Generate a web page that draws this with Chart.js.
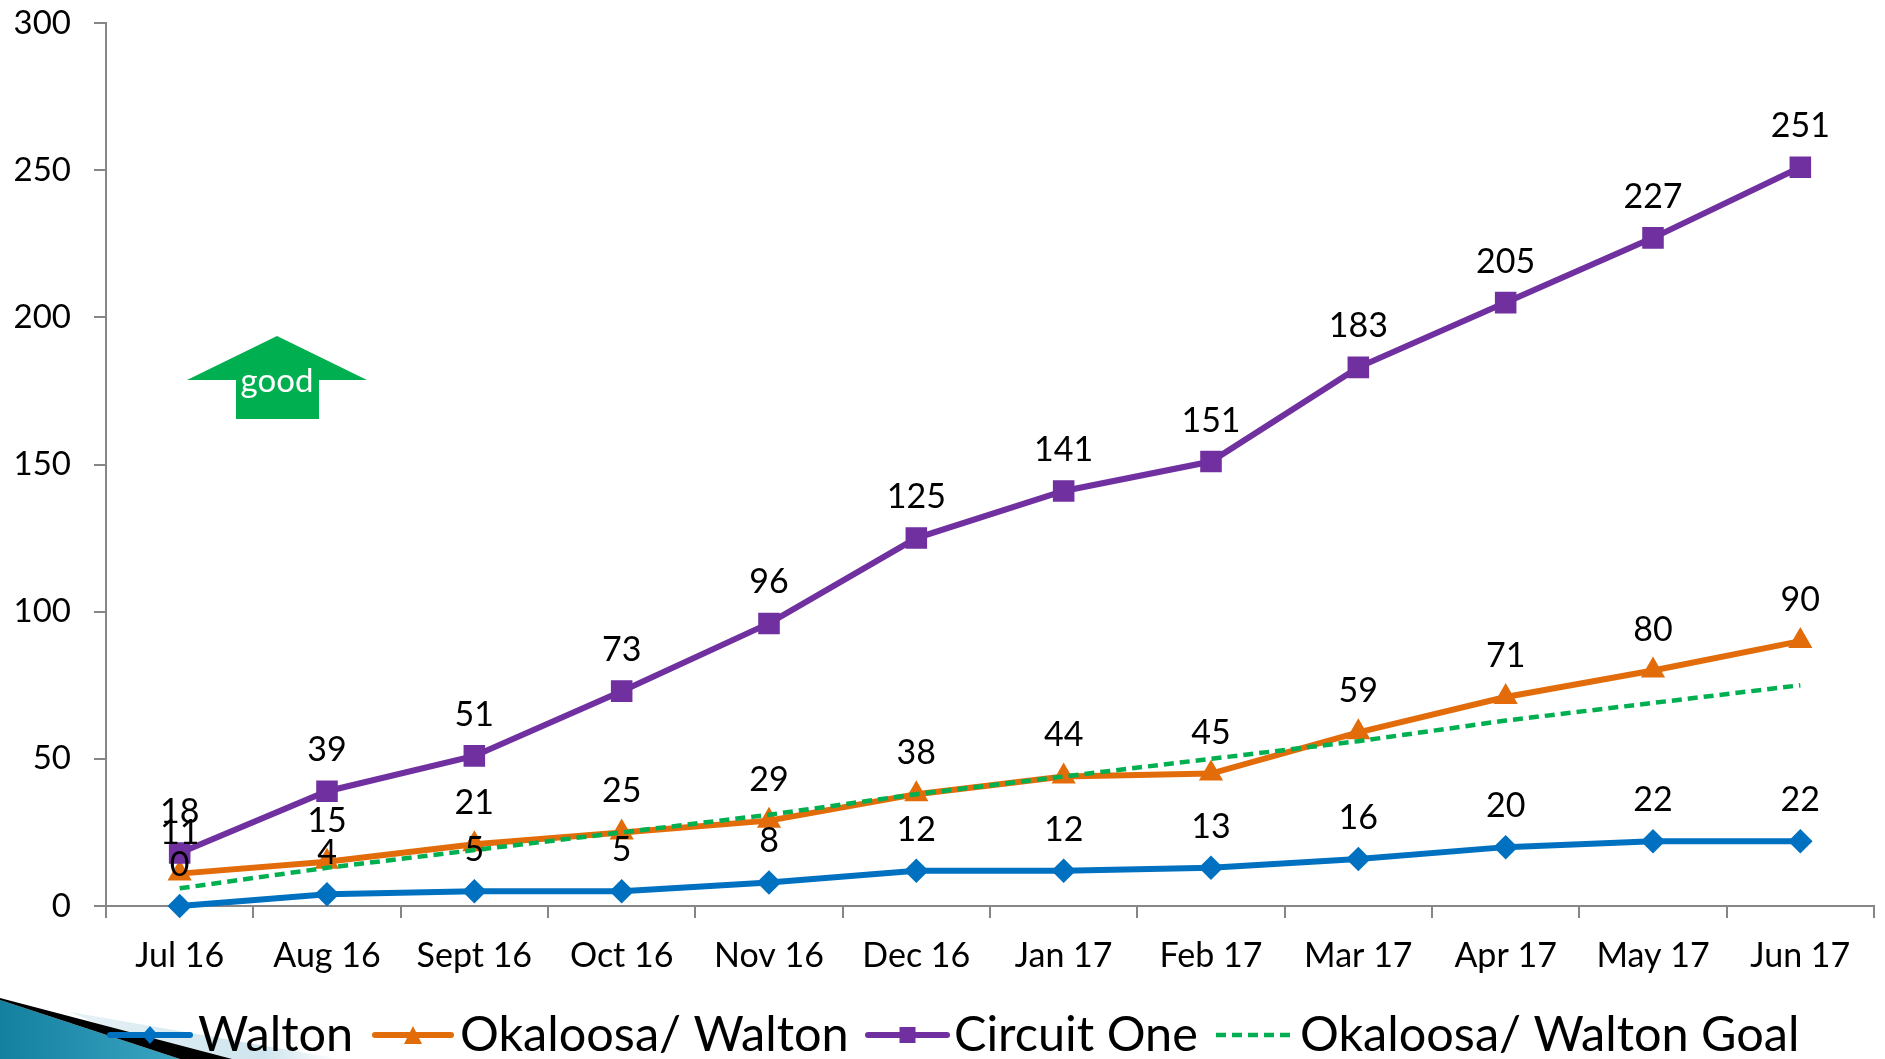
<!DOCTYPE html>
<html><head><meta charset="utf-8">
<style>html,body{margin:0;padding:0;background:#fff;overflow:hidden}#w{position:relative;width:1885px;height:1059px}canvas{display:block}</style>
<script src="https://cdn.jsdelivr.net/npm/chart.js@4/dist/chart.umd.min.js"></script>
</head><body><div id="w"><canvas id="c" width="1885" height="1059"></canvas></div>
<script>
const categories=["Jul 16","Aug 16","Sept 16","Oct 16","Nov 16","Dec 16","Jan 17","Feb 17","Mar 17","Apr 17","May 17","Jun 17"];
const walton=[0,4,5,5,8,12,12,13,16,20,22,22];
const okaloosaWalton=[11,15,21,25,29,38,44,45,59,71,80,90];
const circuitOne=[18,39,51,73,96,125,141,151,183,205,227,251];
const okaloosaWaltonGoal=[6,13,19,25,31,38,44,50,56,63,69,75];
const yTicks=[0,50,100,150,200,250,300];
const FONT='Lato, Carlito, sans-serif';

const decoration={id:'decoration',beforeDraw(ch){
  const c=ch.ctx;c.save();
  const p=c.createLinearGradient(90,0,340,0);
  p.addColorStop(0,'#e4f0f5');p.addColorStop(0.7,'#cfe5ee');p.addColorStop(1,'#ffffff');
  c.fillStyle=p;c.beginPath();c.moveTo(70,1012);c.lineTo(340,1059);c.lineTo(180,1059);c.closePath();c.fill();
  const g=c.createLinearGradient(0,0,180,0);
  g.addColorStop(0,'#14809f');g.addColorStop(1,'#3aa5c3');
  c.fillStyle=g;c.beginPath();c.moveTo(0,1000);c.lineTo(180,1059);c.lineTo(0,1059);c.closePath();c.fill();
  c.fillStyle='#000';c.beginPath();c.moveTo(0,998);c.lineTo(232,1059);c.lineTo(180,1059);c.lineTo(0,1000);c.closePath();c.fill();
  c.restore();
}};
const arrow={id:'arrow',afterDraw(ch){
  const c=ch.ctx;c.save();
  c.fillStyle='#00b050';c.beginPath();
  c.moveTo(277,336);c.lineTo(367,380);c.lineTo(319,380);c.lineTo(319,419);c.lineTo(236,419);c.lineTo(236,380);c.lineTo(187,380);c.closePath();c.fill();
  c.fillStyle='#fff';c.font='33px '+FONT;c.textAlign='center';c.textBaseline='middle';
  c.fillText('good',277,381);c.restore();
}};
const labels={id:'pointLabels',afterDatasetsDraw(ch){
  const c=ch.ctx;c.save();c.fillStyle='#000';c.font='34px '+FONT;c.textAlign='center';c.textBaseline='alphabetic';
  ch.data.datasets.forEach((d,i)=>{
    if(!d.showValues)return;
    ch.getDatasetMeta(i).data.forEach((p,j)=>c.fillText(String(d.data[j]),p.x,p.y-30));
  });c.restore();
}};
const legend={id:'legendRow',afterDraw(ch){
  const c=ch.ctx;c.save();const y=1035;
  const xs=[[110,190,198],[375,451,460],[868,947,954],[1216,1293,1300]];
  ch.data.datasets.forEach((d,i)=>{
    const [a,b,t]=xs[i];
    c.strokeStyle=d.borderColor;c.lineWidth=d.borderWidth;c.setLineDash(d.borderDash||[]);c.lineCap=d.borderDash?'butt':'round';
    c.beginPath();c.moveTo(a,y);c.lineTo(b,y);c.stroke();c.setLineDash([]);
    const m=(a+b)/2;c.fillStyle=d.borderColor;
    if(d.pointStyle==='rectRot'){c.beginPath();c.moveTo(m,y-9);c.lineTo(m+8,y);c.lineTo(m,y+9);c.lineTo(m-8,y);c.closePath();c.fill();}
    if(d.pointStyle==='triangle'){c.beginPath();c.moveTo(m,y-9);c.lineTo(m+9,y+9);c.lineTo(m-9,y+9);c.closePath();c.fill();}
    if(d.pointStyle==='rect'){c.fillRect(m-8,y-8,16,16);}
    c.fillStyle='#000';c.font='48.6px '+FONT;c.textAlign='left';c.textBaseline='middle';c.fillText(d.label,t,y);
  });c.restore();
}};
new Chart(document.getElementById('c'),{
  type:'line',
  data:{labels:categories,datasets:[
    {label:'Walton',data:walton,borderColor:'#0070c0',backgroundColor:'#0070c0',borderWidth:6,pointStyle:'rectRot',pointRadius:8,pointHoverRadius:8,showValues:true,tension:0,order:3,clip:false},
    {label:'Okaloosa/ Walton',data:okaloosaWalton,borderColor:'#e36c0a',backgroundColor:'#e36c0a',borderWidth:6,pointStyle:'triangle',pointRadius:8,pointHoverRadius:8,showValues:true,tension:0,order:2,clip:false},
    {label:'Circuit One',data:circuitOne,borderColor:'#7030a0',backgroundColor:'#7030a0',borderWidth:6,pointStyle:'rect',pointRadius:11,pointHoverRadius:11,showValues:true,tension:0,order:1,clip:false},
    {label:'Okaloosa/ Walton Goal',data:okaloosaWaltonGoal,borderColor:'#00b050',backgroundColor:'#00b050',borderWidth:4.5,borderDash:[10,6],pointRadius:0,showValues:false,tension:0,order:0,clip:false}
  ]},
  plugins:[decoration,labels,arrow,legend],
  options:{
    responsive:false,animation:false,
    layout:{autoPadding:false,padding:{left:0,right:11,top:23,bottom:0}},
    plugins:{legend:{display:false},tooltip:{enabled:false}},
    scales:{
      x:{offset:true,afterFit(a){a.height=153;a.paddingLeft=0;a.paddingRight=0;},
        grid:{offset:true,drawOnChartArea:false,drawTicks:true,tickLength:12,color:'#868686',lineWidth:2},
        border:{color:'#868686',width:2},
        ticks:{color:'#000',font:{family:FONT,size:34},padding:18,maxRotation:0,autoSkip:false}},
      y:{min:0,max:300,afterBuildTicks(a){a.ticks=yTicks.map(v=>({value:v}));},
        afterFit(a){a.width=106;a.paddingTop=0;a.paddingBottom=0;},
        grid:{drawOnChartArea:false,drawTicks:true,tickLength:12,color:'#868686',lineWidth:2},
        border:{color:'#868686',width:2},
        ticks:{color:'#000',font:{family:FONT,size:33},padding:23}}
    }
  }
});
</script></body></html>
